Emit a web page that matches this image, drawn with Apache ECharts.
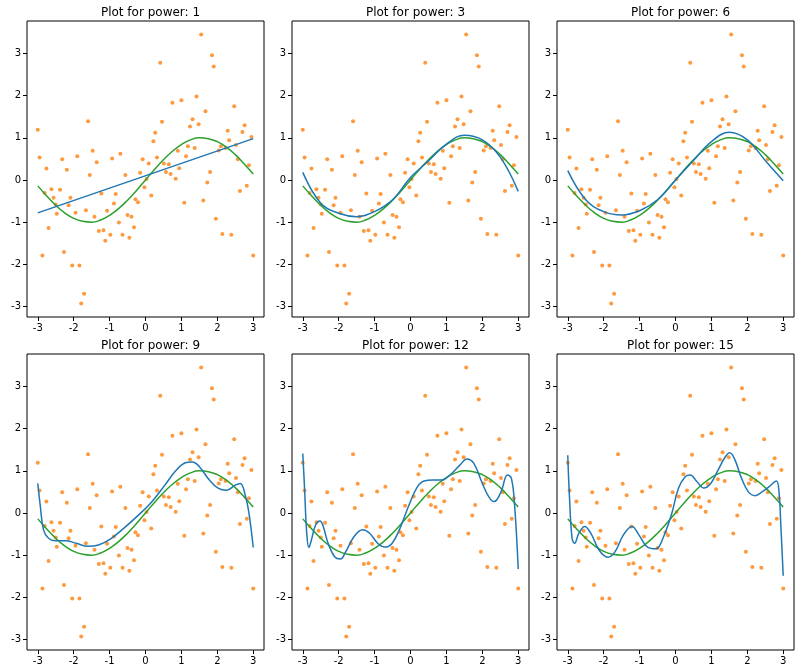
<!DOCTYPE html>
<html>
<head>
<meta charset="utf-8">
<script src="https://cdn.jsdelivr.net/npm/echarts@6/dist/echarts.min.js"></script>
<style>
html, body { margin: 0; padding: 0; background: #fff; }
#chart1 { width: 799px; height: 668px; }
</style>
</head>
<body>
<div id="chart1"></div>
<script>
// 散点数据 (x, y)
var pointX = [-3.0, -2.95, -2.87, -2.81, -2.76, -2.70, -2.62, -2.56, -2.50, -2.47, -2.38, -2.32, -2.27, -2.19, -2.14, -2.09, -2.04, -1.95, -1.90, -1.84,
    -1.79, -1.71, -1.66, -1.60, -1.55, -1.47, -1.42, -1.36, -1.30, -1.23, -1.17, -1.12, -1.07, -0.98, -0.93, -0.88, -0.83, -0.74, -0.70, -0.64,
    -0.56, -0.50, -0.45, -0.39, -0.32, -0.28, -0.21, -0.15, -0.08, -0.03, 0.03, 0.09, 0.16, 0.22, 0.27, 0.32, 0.41, 0.46, 0.51, 0.57,
    0.65, 0.70, 0.75, 0.84, 0.90, 0.94, 1.00, 1.08, 1.13, 1.18, 1.24, 1.31, 1.37, 1.42, 1.48, 1.55, 1.61, 1.67, 1.72, 1.80,
    1.85, 1.90, 1.96, 2.04, 2.10, 2.14, 2.23, 2.29, 2.33, 2.39, 2.47, 2.52, 2.57, 2.63, 2.70, 2.76, 2.82, 2.88, 2.95, 3.0];
var pointY = [1.19, 0.53, -1.79, -0.31, 0.27, -1.14, -0.22, -0.42, -0.58, -0.80, -0.23, 0.49, -1.71, 0.24, -0.60, -0.42, -2.03, -0.78, 0.56, -2.03,
    -2.93, -2.70, -0.72, 1.39, 0.12, 0.69, -0.87, 0.42, -1.21, -0.32, -1.19, -1.44, -0.73, -1.30, 0.51, -0.56, -0.33, -1.01, 0.62, -1.30,
    0.12, -0.83, -1.37, -0.87, -1.12, -0.46, -0.53, 0.17, 0.49, -0.17, 0.02, 0.39, -0.37, 0.92, 1.12, 0.53, 2.78, 1.38, 0.39, 0.19,
    0.37, 0.14, 1.83, 0.03, 0.69, 0.28, 1.89, -0.54, 0.56, 0.80, 1.27, 1.44, 0.76, 1.98, 1.32, 3.45, -0.49, 1.63, -0.06, 0.19,
    2.96, 2.69, -0.92, 0.70, 0.80, -1.28, 0.76, 1.17, 0.94, -1.30, 1.75, 0.83, 0.49, -0.26, 1.14, 1.30, -0.14, 0.35, 1.02, -1.79];

// 绿色曲线
var trueX = [-3, -2.75, -2.5, -2.25, -2, -1.75, -1.5, -1.25, -1, -0.75, -0.5, -0.25, 0, 0.25, 0.5, 0.75, 1, 1.25, 1.5, 1.75, 2, 2.25, 2.5, 2.75, 3];
var trueY = [-0.14, -0.38, -0.6, -0.78, -0.91, -0.98, -1.0, -0.95, -0.84, -0.68, -0.48, -0.25, 0, 0.25, 0.48, 0.68, 0.84, 0.95, 1.0, 0.98, 0.91, 0.78, 0.6, 0.38, 0.14];

// 蓝色拟合曲线
var powers = [1, 3, 6, 9, 12, 15];
var fitX1 = [-3, 3];
var fitY1 = [-0.78, 0.98];
var fitX3 = [-3, -2.5, -2, -1.5, -1, -0.5, 0, 0.5, 1, 1.5, 2, 2.5, 3];
var fitY3 = [0.18, -0.55, -0.79, -0.87, -0.75, -0.47, 0.06, 0.45, 0.85, 1.06, 0.95, 0.54, -0.27];
var fitX6 = [-3, -2.5, -2, -1.5, -1, -0.5, 0, 0.5, 1, 1.5, 2, 2.5, 3];
var fitY6 = [0.22, -0.47, -0.75, -0.83, -0.73, -0.47, 0.0, 0.46, 0.91, 1.13, 0.95, 0.46, -0.02];
var fitX9 = [-3, -2.93, -2.84, -2.70, -2.51, -2.22, -1.93, -1.60, -1.31, -0.98, -0.60, -0.22, 0.16, 0.54, 0.83, 1.11, 1.30, 1.49, 1.78, 2.02, 2.26, 2.50, 2.64, 2.78, 2.88, 3.0];
var fitY9 = [0.70, 0.17, -0.40, -0.60, -0.66, -0.66, -0.72, -0.79, -0.76, -0.62, -0.36, -0.07, 0.25, 0.66, 0.99, 1.19, 1.21, 1.11, 0.78, 0.59, 0.54, 0.66, 0.70, 0.41, 0.0, -0.82];
var fitX12 = [-3.0, -2.95, -2.89, -2.83, -2.76, -2.64, -2.52, -2.43, -2.29, -2.10, -1.95, -1.81, -1.57, -1.33, -1.14, -0.90, -0.71, -0.52, -0.29, -0.05,
    0.19, 0.38, 0.62, 0.86, 1.10, 1.38, 1.57, 1.76, 2.00, 2.19, 2.33, 2.52, 2.70, 2.81, 2.90, 3.0];
var fitY12 = [1.41, 0.58, -0.48, -0.82, -0.64, -0.28, -0.19, -0.32, -0.73, -1.05, -1.09, -0.93, -0.56, -0.40, -0.48, -0.73, -0.81, -0.73, -0.36, 0.17,
    0.62, 0.76, 0.78, 0.78, 0.90, 1.14, 1.28, 1.18, 0.70, 0.37, 0.27, 0.50, 0.90, 0.82, 0.17, -1.33];
var fitX15 = [-3.0, -2.95, -2.88, -2.81, -2.69, -2.53, -2.36, -2.12, -1.88, -1.69, -1.45, -1.21, -1.02, -0.78, -0.54, -0.35, -0.11, 0.08, 0.27, 0.41,
    0.60, 0.79, 0.98, 1.17, 1.37, 1.51, 1.65, 1.84, 2.03, 2.22, 2.41, 2.60, 2.81, 2.89, 2.93, 3.0];
var fitY15 = [1.37, 0.33, -0.60, -0.72, -0.48, -0.32, -0.48, -0.89, -1.05, -0.93, -0.52, -0.32, -0.52, -0.81, -0.85, -0.60, -0.03, 0.58, 0.86, 0.90,
    0.74, 0.59, 0.70, 0.99, 1.31, 1.43, 1.27, 0.82, 0.50, 0.41, 0.50, 0.62, 0.76, 0.41, -0.24, -1.49];

var fitXs = [fitX1, fitX3, fitX6, fitX9, fitX12, fitX15];
var fitYs = [fitY1, fitY3, fitY6, fitY9, fitY12, fitY15];

var tickX = [-3, -2, -1, 0, 1, 2, 3];
var tickY = [-3, -2, -1, 0, 1, 2, 3];

function zip(xs, ys) {
    var out = [];
    for (var i = 0; i < xs.length; i++) out.push([xs[i], ys[i]]);
    return out;
}

var lefts = [27, 292, 557];
var tops = [21, 354];
var grids = [], xAxes = [], yAxes = [], series = [], titles = [];

for (var k = 0; k < 6; k++) {
    var col = k % 3, row = Math.floor(k / 3);
    grids.push({
        left: lefts[col], top: tops[row], width: 237, height: 296,
        show: true, borderColor: '#000', borderWidth: 1, backgroundColor: '#fff'
    });
    titles.push({
        text: 'Plot for power: ' + powers[k],
        left: lefts[col] + 118.5, top: tops[row] - 19, textAlign: 'center',
        textStyle: { fontFamily: 'DejaVu Sans', fontSize: 12, fontWeight: 'normal', color: '#000' }
    });
    xAxes.push({
        gridIndex: k, type: 'value', min: -3.3, max: 3.3, position: 'bottom',
        splitLine: { show: false }, axisLine: { show: false, onZero: false },
        axisTick: { show: true, customValues: tickX, length: 4, lineStyle: { color: '#000' } },
        axisLabel: { customValues: tickX, fontFamily: 'DejaVu Sans', fontSize: 10, color: '#000', margin: 6 }
    });
    yAxes.push({
        gridIndex: k, type: 'value', min: -3.25, max: 3.77, position: 'left',
        splitLine: { show: false }, axisLine: { show: false, onZero: false },
        axisTick: { show: true, customValues: tickY, length: 4, lineStyle: { color: '#000' } },
        axisLabel: { customValues: tickY, fontFamily: 'DejaVu Sans', fontSize: 10, color: '#000', margin: 6 }
    });
    series.push({
        type: 'scatter', xAxisIndex: k, yAxisIndex: k, data: zip(pointX, pointY),
        symbolSize: 4, itemStyle: { color: '#ff7f0e' }, silent: true, z: 2
    });
    series.push({
        type: 'line', xAxisIndex: k, yAxisIndex: k, data: zip(trueX, trueY), smooth: true,
        showSymbol: false, lineStyle: { color: '#2ca02c', width: 1.5 }, z: 3
    });
    series.push({
        type: 'line', xAxisIndex: k, yAxisIndex: k, data: zip(fitXs[k], fitYs[k]), smooth: 0.4,
        showSymbol: false, lineStyle: { color: '#1f77b4', width: 1.5 }, z: 4
    });
}

var chart = echarts.init(document.getElementById('chart1'));
chart.setOption({
    animation: false,
    backgroundColor: '#fff',
    title: titles,
    grid: grids,
    xAxis: xAxes,
    yAxis: yAxes,
    series: series
});
</script>
</body>
</html>
